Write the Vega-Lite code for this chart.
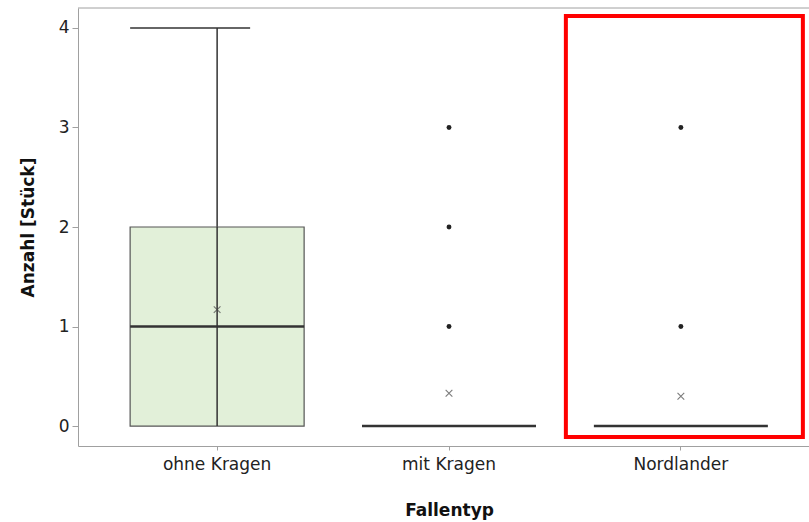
{
  "$schema": "https://vega.github.io/schema/vega-lite/v6.json",
  "width": 731,
  "height": 438,
  "autosize": {"type": "none"},
  "padding": {"left": 78, "top": 8, "right": 0, "bottom": 76},
  "background": "white",
  "config": {
    "view": {"stroke": null},
    "font": "DejaVu Sans",
    "axis": {"labelFont": "DejaVu Sans", "titleFont": "DejaVu Sans", "labelFontSize": 17, "titleFontSize": 17, "labelColor": "#222", "titleColor": "#111", "domainColor": "#a0a0a0", "tickColor": "#a0a0a0", "grid": false}
  },
  "datasets": {
    "stats": [
      {"Fallentyp": "ohne Kragen", "lower": 0, "q1": 0, "median": 1, "q3": 2, "upper": 4, "mean": 1.17},
      {"Fallentyp": "mit Kragen", "lower": 0, "q1": 0, "median": 0, "q3": 0, "upper": 0, "mean": 0.33},
      {"Fallentyp": "Nordlander", "lower": 0, "q1": 0, "median": 0, "q3": 0, "upper": 0, "mean": 0.3}
    ],
    "outliers": [
      {"Fallentyp": "mit Kragen", "Anzahl": 1},
      {"Fallentyp": "mit Kragen", "Anzahl": 2},
      {"Fallentyp": "mit Kragen", "Anzahl": 3},
      {"Fallentyp": "Nordlander", "Anzahl": 1},
      {"Fallentyp": "Nordlander", "Anzahl": 3}
    ],
    "highlight": [
      {"Fallentyp": "Nordlander", "top": 4.12, "bottom": -0.11}
    ]
  },
  "encoding": {
    "x": {
      "field": "Fallentyp", "type": "nominal",
      "sort": ["ohne Kragen", "mit Kragen", "Nordlander"],
      "scale": {"domain": ["ohne Kragen", "mit Kragen", "Nordlander"], "range": [0, 742], "paddingInner": 0, "paddingOuter": 0.1},
      "axis": {"title": "Fallentyp", "titleFontWeight": "bold", "labelAngle": 0, "tickSize": 4, "labelPadding": 6, "titlePadding": 30}
    }
  },
  "layer": [
    {
      "data": {"name": "stats"},
      "mark": {"type": "rule", "color": "#333", "strokeWidth": 1.5},
      "encoding": {
        "y": {"field": "lower", "type": "quantitative", "scale": {"domain": [-0.2, 4.2], "nice": false, "zero": false},
          "axis": {"title": "Anzahl [Stück]", "titleFontWeight": "bold", "values": [0, 1, 2, 3, 4], "format": "d", "tickSize": 6, "labelPadding": 3, "titlePadding": 21}},
        "y2": {"field": "upper"}
      }
    },
    {
      "data": {"name": "stats"},
      "transform": [{"filter": "datum.q3 > datum.q1"}],
      "mark": {"type": "bar", "size": 174, "fill": "#e2f0d9", "stroke": "#555", "strokeWidth": 1.2},
      "encoding": {"y": {"field": "q1", "type": "quantitative"}, "y2": {"field": "q3"}}
    },
    {
      "data": {"name": "stats"},
      "transform": [{"filter": "datum.q3 > datum.q1"}],
      "mark": {"type": "rule", "color": "#333", "strokeWidth": 1.5},
      "encoding": {"y": {"field": "q1", "type": "quantitative"}, "y2": {"field": "q3"}}
    },
    {
      "data": {"name": "stats"},
      "mark": {"type": "tick", "size": 174, "thickness": 2.5, "color": "#333", "opacity": 1},
      "encoding": {"y": {"field": "median", "type": "quantitative"}}
    },
    {
      "data": {"name": "stats"},
      "transform": [{"filter": "datum.upper > datum.q3"}],
      "mark": {"type": "tick", "size": 120, "thickness": 1.5, "color": "#333", "opacity": 1, "xOffset": -27},
      "encoding": {"y": {"field": "upper", "type": "quantitative"}}
    },
    {
      "data": {"name": "stats"},
      "mark": {"type": "point", "shape": "M-1,-1L1,1M-1,1L1,-1", "size": 45, "stroke": "#444", "strokeWidth": 1.1, "filled": false},
      "encoding": {"y": {"field": "mean", "type": "quantitative"}}
    },
    {
      "data": {"name": "outliers"},
      "mark": {"type": "circle", "size": 24, "color": "#222", "opacity": 1},
      "encoding": {"y": {"field": "Anzahl", "type": "quantitative"}}
    },
    {
      "data": {"name": "highlight"},
      "mark": {"type": "rect", "fill": null, "stroke": "#ff0000", "strokeWidth": 4, "width": 237, "xOffset": 3.5},
      "encoding": {"y": {"field": "top", "type": "quantitative"}, "y2": {"field": "bottom"}}
    },
    {
      "data": {"name": "stats"},
      "transform": [{"filter": "datum.Fallentyp == 'ohne Kragen'"}],
      "mark": {"type": "rule", "color": "#a0a0a0", "strokeWidth": 1},
      "encoding": {"y": {"datum": 4.2}, "x": {"value": 0}, "x2": {"value": 731}}
    }
  ]
}
